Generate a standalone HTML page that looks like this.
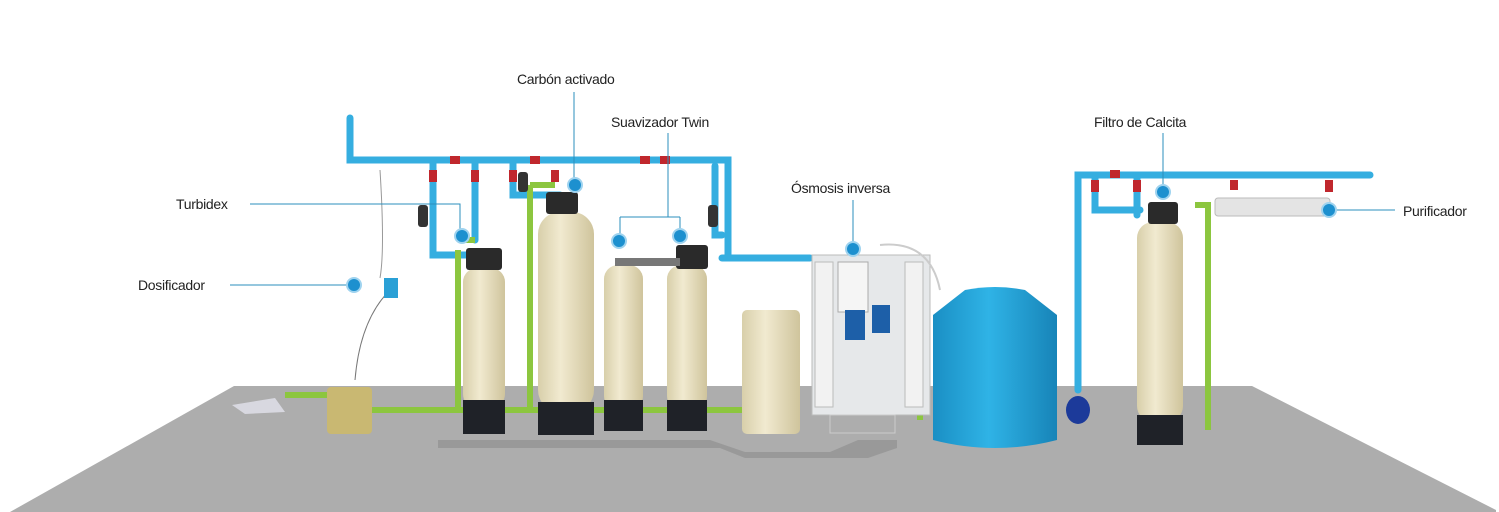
<!DOCTYPE html>
<html><head><meta charset="utf-8"><style>
html,body{margin:0;padding:0;background:#fff;}
svg{display:block}
text{font-family:"Liberation Sans",sans-serif;font-size:14px;fill:#222;letter-spacing:-0.3px}
</style></head><body>
<svg width="1499" height="512" viewBox="0 0 1499 512" xmlns="http://www.w3.org/2000/svg">
<defs>
<linearGradient id="beige" x1="0" x2="1"><stop offset="0" stop-color="#d8cfaa"/><stop offset=".4" stop-color="#f1ead0"/><stop offset="1" stop-color="#cfc49c"/></linearGradient>
<linearGradient id="blue" x1="0" x2="1"><stop offset="0" stop-color="#1a8fc4"/><stop offset=".45" stop-color="#2fb3e6"/><stop offset="1" stop-color="#1784b8"/></linearGradient>
</defs>
<!-- floor -->
<polygon points="234,386 1252,386 1496,510 1496,512 10,512" fill="#adadad"/>
<polygon points="438,440 710,440 745,452 830,452 858,440 897,440 897,448 868,458 745,458 720,448 438,448" fill="#999"/>
<!-- blue pipes -->
<g stroke="#35aee0" stroke-width="7" fill="none" stroke-linecap="round">
<path d="M350,118 V160 H728 V255"/>
<path d="M715,166 V235 H722"/>
<path d="M433,160 V255 H470"/>
<path d="M475,160 V240"/>
<path d="M513,160 V195 H560"/>
<path d="M722,258 H810"/>
<path d="M1078,390 V175 H1370"/>
<path d="M1095,175 V210 H1140"/>
<path d="M1137,175 V215"/>
</g>
<!-- green pipes -->
<g stroke="#8cc63f" stroke-width="6" fill="none">
<path d="M285,395 H330"/>
<path d="M372,410 H470"/>
<path d="M458,250 V410"/>
<path d="M530,185 V410"/>
<path d="M530,185 H555"/>
<path d="M500,410 H760"/>
<path d="M1195,205 H1208 V430"/>
<path d="M458,240 H475"/>
<path d="M920,330 V420"/>
</g>
<!-- valves -->
<g fill="#c0272d">
<rect x="429" y="170" width="8" height="12"/><rect x="471" y="170" width="8" height="12"/><rect x="509" y="170" width="8" height="12"/><rect x="551" y="170" width="8" height="12"/>
<rect x="450" y="156" width="10" height="8"/><rect x="530" y="156" width="10" height="8"/><rect x="640" y="156" width="10" height="8"/><rect x="660" y="156" width="10" height="8"/>
<rect x="1091" y="180" width="8" height="12"/><rect x="1133" y="180" width="8" height="12"/><rect x="1325" y="180" width="8" height="12"/><rect x="1110" y="170" width="10" height="8"/><rect x="1230" y="180" width="8" height="10"/>
</g>
<g fill="#333"><rect x="418" y="205" width="10" height="22" rx="3"/><rect x="518" y="172" width="10" height="20" rx="3"/><rect x="708" y="205" width="10" height="22" rx="3"/></g>
<!-- dosificador line -->
<path d="M380,170 Q385,250 380,278" stroke="#999" fill="none"/>
<path d="M390,290 Q360,320 355,380" stroke="#777" fill="none"/>
<rect x="384" y="278" width="14" height="20" fill="#2aa0d6"/>
<!-- jerrycan -->
<rect x="327" y="387" width="45" height="47" rx="4" fill="#c9b872"/>
<polygon points="232,405 275,398 285,412 245,414" fill="#d8d8e0"/>
<!-- tanks -->
<g>
<rect x="463" y="268" width="42" height="140" rx="14" fill="url(#beige)"/><rect x="463" y="400" width="42" height="34" fill="#1f2228"/>
<rect x="538" y="212" width="56" height="200" rx="22" fill="url(#beige)"/><rect x="538" y="402" width="56" height="33" fill="#1f2228"/>
<rect x="604" y="265" width="39" height="145" rx="14" fill="url(#beige)"/><rect x="604" y="400" width="39" height="31" fill="#1f2228"/>
<rect x="667" y="265" width="40" height="145" rx="14" fill="url(#beige)"/><rect x="667" y="400" width="40" height="31" fill="#1f2228"/>
<rect x="742" y="310" width="58" height="124" rx="5" fill="url(#beige)"/>
<rect x="1137" y="222" width="46" height="200" rx="16" fill="url(#beige)"/><rect x="1137" y="415" width="46" height="30" fill="#1f2228"/>
</g>
<!-- control heads -->
<g fill="#2a2a2a">
<rect x="466" y="248" width="36" height="22" rx="3"/><rect x="546" y="192" width="32" height="22" rx="3"/><rect x="676" y="245" width="32" height="24" rx="3"/><rect x="1148" y="202" width="30" height="22" rx="3"/>
</g>
<rect x="615" y="258" width="65" height="8" fill="#777"/>
<!-- RO -->
<rect x="812" y="255" width="118" height="160" fill="#e6e8ea" stroke="#bbb"/>
<rect x="838" y="262" width="30" height="50" fill="#f5f5f5" stroke="#aaa"/>
<rect x="845" y="310" width="20" height="30" fill="#1d5fa8"/><rect x="872" y="305" width="18" height="28" fill="#1d5fa8"/>
<rect x="815" y="262" width="18" height="145" fill="#f2f2f2" stroke="#bbb"/><rect x="905" y="262" width="18" height="145" fill="#f2f2f2" stroke="#bbb"/>
<rect x="830" y="415" width="65" height="18" fill="none" stroke="#ccc"/>
<path d="M880,245 Q930,240 940,290" stroke="#ccc" fill="none" stroke-width="2"/>
<!-- blue tank -->
<path d="M933,315 L965,290 Q995,284 1025,290 L1057,315 V440 Q995,456 933,440 Z" fill="url(#blue)"/>
<ellipse cx="1078" cy="410" rx="12" ry="14" fill="#1c3a9a"/>
<!-- purificador -->
<rect x="1215" y="198" width="115" height="18" rx="3" fill="#e4e4e4" stroke="#bbb"/>
<!-- label lines -->
<g stroke="#2b8fbc" stroke-width="1" fill="none">
<path d="M230,285 H354"/><path d="M250,204 H460 V235"/>
<path d="M574,92 V183"/><path d="M668,133 V217 M620,217 H680 M620,217 V240 M680,217 V235"/>
<path d="M853,200 V248"/><path d="M1163,133 V190"/><path d="M1330,210 H1395"/>
</g>
<g fill="#1d90cf" stroke="#9fd3ef" stroke-width="2">
<circle cx="354" cy="285" r="7"/><circle cx="462" cy="236" r="7"/><circle cx="575" cy="185" r="7"/>
<circle cx="619" cy="241" r="7"/><circle cx="680" cy="236" r="7"/><circle cx="853" cy="249" r="7"/>
<circle cx="1163" cy="192" r="7"/><circle cx="1329" cy="210" r="7"/>
</g>
<text x="138" y="290">Dosificador</text>
<text x="176" y="209">Turbidex</text>
<text x="517" y="84">Carbón activado</text>
<text x="611" y="127">Suavizador Twin</text>
<text x="791" y="193">Ósmosis inversa</text>
<text x="1094" y="127">Filtro de Calcita</text>
<text x="1403" y="216">Purificador</text>
</svg>
</body></html>
